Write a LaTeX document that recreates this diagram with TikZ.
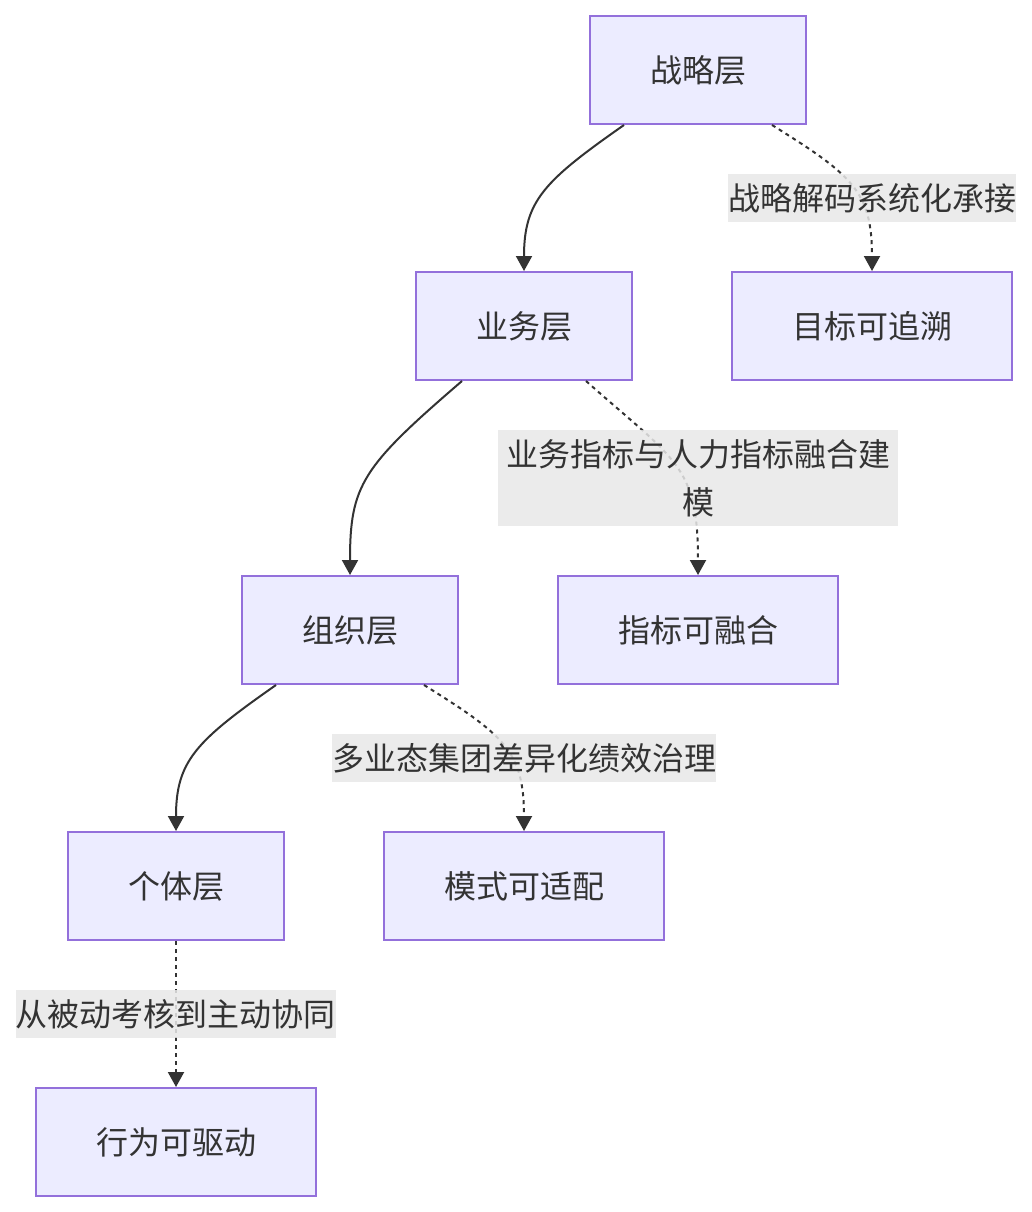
\documentclass[tikz,border=0pt]{standalone}
\usepackage{fontspec}
\setmainfont{Noto Sans CJK SC}
\usetikzlibrary{arrows.meta}
\definecolor{nodefill}{HTML}{ECECFF}
\definecolor{nodeline}{HTML}{9370DB}
\definecolor{txt}{HTML}{333333}
\definecolor{lblbg}{HTML}{E8E8E8}
\begin{document}
\begin{tikzpicture}[x=1pt,y=-1pt,
  box/.style={draw=nodeline,fill=nodefill,line width=2pt,minimum height=108pt,inner sep=0pt,text=txt,font=\fontsize{32}{38}\selectfont},
  nbox/.style={box,minimum width=216pt},
  wbox/.style={box,minimum width=280pt},
  lbl/.style={fill=lblbg,fill opacity=0.85,text opacity=1,text=txt,inner sep=0pt,font=\fontsize{32}{48}\selectfont,align=center},
  sol/.style={draw=txt,line width=2pt,-{Triangle[length=15pt,width=16pt]}},
  dsh/.style={draw=txt,line width=2pt,dash pattern=on 4pt off 4pt,-{Triangle[length=15pt,width=16pt]}}
]
\useasboundingbox (0,0) rectangle (1032,1212);
\node[nbox] (zl) at (698,70) {战略层};
\node[nbox] (yw) at (524,326) {业务层};
\node[wbox] (mb) at (872,326) {目标可追溯};
\node[nbox] (zz) at (350,630) {组织层};
\node[wbox] (zb) at (698,630) {指标可融合};
\node[nbox] (gt) at (176,886) {个体层};
\node[wbox] (ms) at (524,886) {模式可适配};
\node[wbox] (xw) at (176,1142) {行为可驱动};

% solid edges
\draw[sol] ([xshift=-74pt]zl.south) .. controls +(-80,56) and +(0,-70) .. (yw.north);
\draw[sol] ([xshift=-62pt]yw.south) .. controls +(-100,86) and +(0,-90) .. (zz.north);
\draw[sol] ([xshift=-74pt]zz.south) .. controls +(-80,56) and +(0,-70) .. (gt.north);

% dashed edges
\draw[dsh] ([xshift=74pt]zl.south) .. controls +(80,50) and +(0,-80) .. (mb.north);
\draw[dsh] ([xshift=62pt]yw.south) .. controls +(90,80) and +(0,-110) .. (zb.north);
\draw[dsh] ([xshift=74pt]zz.south) .. controls +(80,50) and +(0,-80) .. (ms.north);
\draw[dsh] (gt.south) -- (xw.north);

% labels
\node[lbl,minimum width=288pt,minimum height=48pt] (l1) at (872,198) {战略解码系统化承接};
\node[lbl,minimum width=400pt,minimum height=96pt] (l2) at (698,478) {业务指标与人力指标融合建\\模};
\node[lbl,minimum width=384pt,minimum height=48pt] (l3) at (524,758) {多业态集团差异化绩效治理};
\node[lbl,minimum width=320pt,minimum height=48pt] (l4) at (176,1014) {从被动考核到主动协同};
\end{tikzpicture}
\end{document}
